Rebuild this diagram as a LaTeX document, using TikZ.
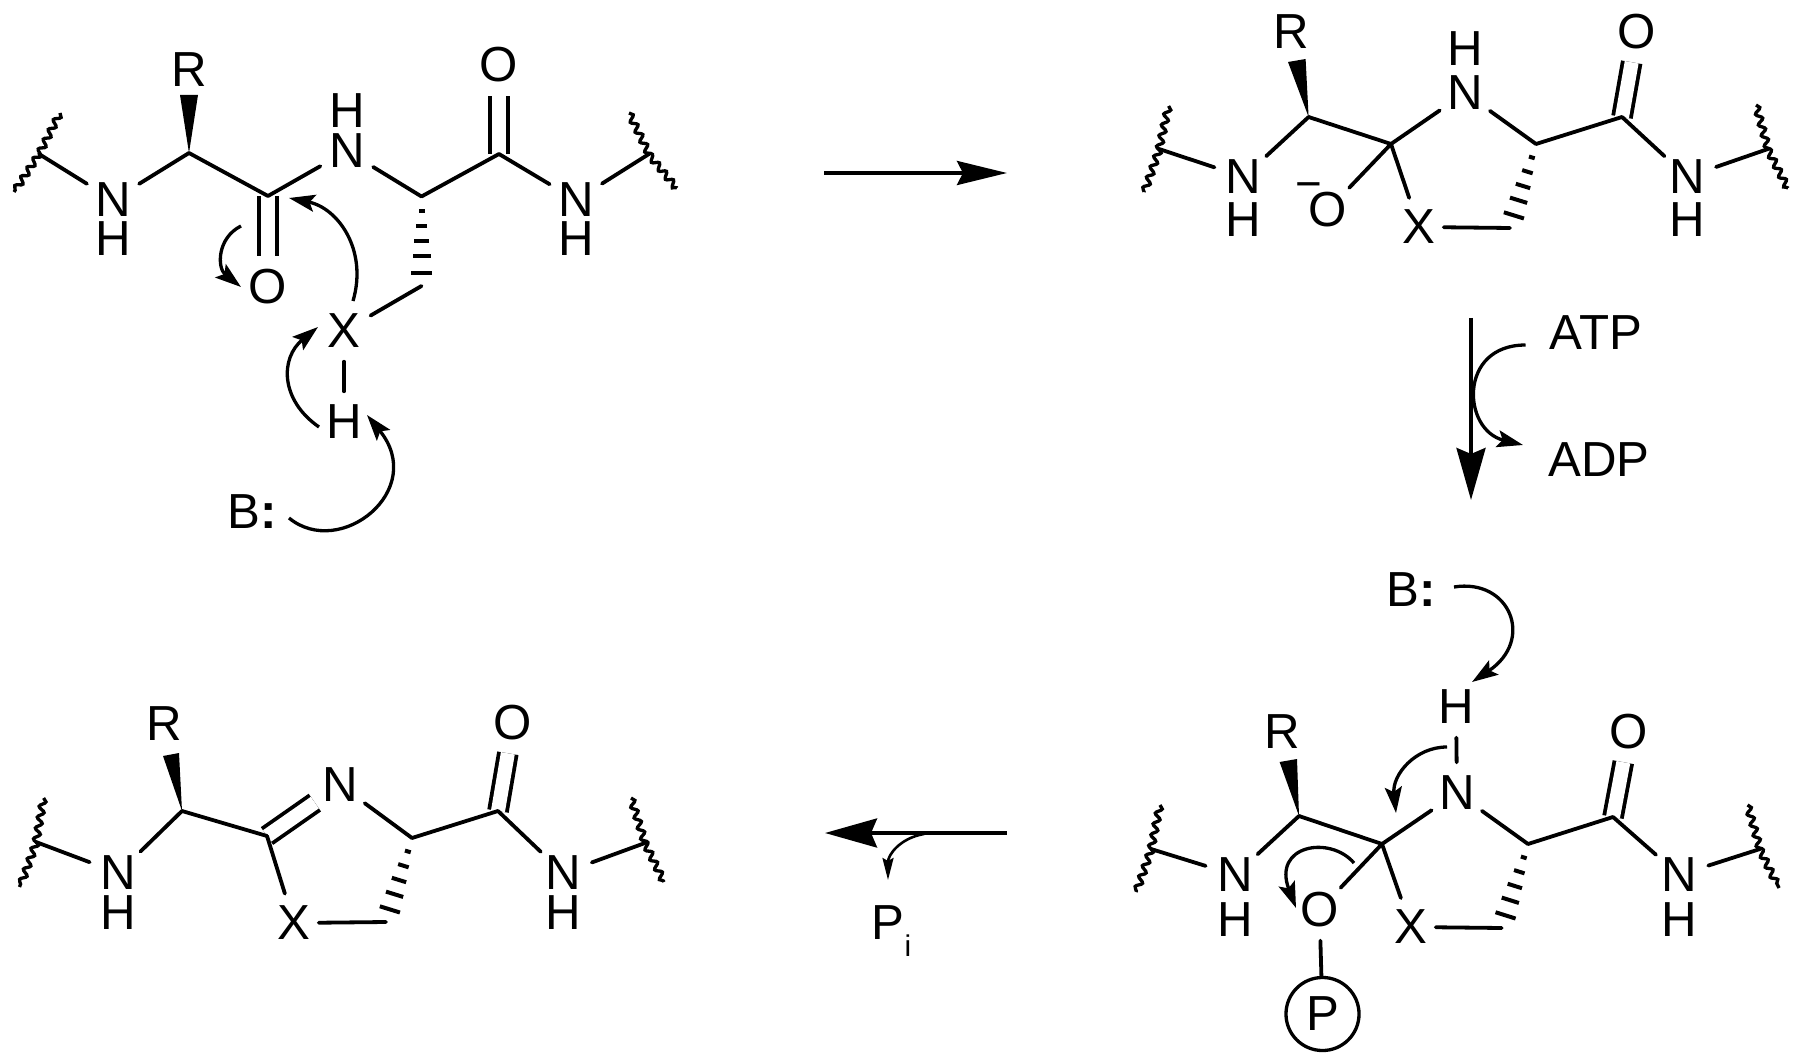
\documentclass[tikz,border=0pt]{standalone}
\usepackage{fontspec}
\setmainfont{Liberation Sans}
\usetikzlibrary{calc,arrows.meta,decorations.pathmorphing}
\tikzset{
  atom/.style={circle,inner sep=0pt,minimum size=0.6cm,font=\fontsize{14}{14}\selectfont},
  label14/.style={inner sep=0pt,font=\fontsize{14}{14}\selectfont},
  bond/.style={line width=0.038cm,line cap=round},
  dbl/.style={double,double distance=0.14cm,line width=0.038cm,line cap=butt},
  wig/.style={line width=0.033cm,decorate,decoration={snake,segment length=0.11cm,amplitude=0.03cm,pre length=0pt,post length=0pt}},
  hash/.style={line width=0.04cm},
  wedge/.style={fill=black,draw=none},
  mech/.style={line width=0.033cm,-{Stealth[length=0.26cm,width=0.17cm,inset=0.05cm]}},
  mechsmall/.style={line width=0.026cm,-{Stealth[length=0.22cm,width=0.11cm,inset=0.03cm]}},
  rxn/.style={line width=0.036cm,-{Stealth[length=0.52cm,width=0.29cm,inset=0.06cm]}},
  rxnh/.style={line width=0.036cm,-{Stealth[length=0.5cm,width=0.24cm,inset=0.06cm]}},
  toxext/.style={shorten <=-0.06cm},
}
\newcommand{\hashbond}[2]{%
  \foreach \t/\w in {0.16/0.03cm,0.33/0.055cm,0.5/0.075cm,0.67/0.09cm,0.85/0.105cm}{%
    \draw[hash] ($(#1)!\t!(#2)!\w!90:(#2)$) -- ($(#1)!\t!(#2)!\w!-90:(#2)$);}}
\begin{document}
\begin{tikzpicture}[x=0.01cm,y=-0.01cm]
\useasboundingbox (0,0) rectangle (1800,1064);

% ---------- Structure 1 (top left)
\coordinate (aWa) at (60,113); \coordinate (aWb) at (14,192); \coordinate (aJl) at (39,154);
\coordinate (aCa) at (189,153); \coordinate (aCo) at (268,196); \coordinate (aCb) at (421.5,196.5);
\coordinate (aCc) at (499,154); \coordinate (aJr) at (649,154); \coordinate (aWc) at (629,113);
\coordinate (aWd) at (677,188); \coordinate (aCh) at (421.5,286);
\coordinate (aW1) at (180,95); \coordinate (aW2) at (198,95);
\node[atom] (aN1) at (113,200) {N}; \node[atom] (aH1) at (113,239) {H};
\node[atom] (aR) at (189,70) {R};
\node[atom] (aN2) at (347,151) {N}; \node[atom] (aH2) at (347,111) {H};
\node[atom] (aO1) at (268,287) {O}; \node[atom] (aO2) at (499,65) {O};
\node[atom] (aN3) at (576,200) {N}; \node[atom] (aH3) at (576,239) {H};
\node[atom] (aX) at (344,331) {X}; \node[atom] (aH4) at (344,422) {H};
\node[atom] (aB) at (252,512) {B\textbf{:}};
\draw[dbl] (aCo) -- (aO1);
\draw[dbl] (aCc) -- (aO2);
\draw[wig] (aWa) -- (aJl) -- (aWb);
\draw[wig] (aWc) -- (aJr) -- (aWd);
\draw[bond] (aJl) -- (aN1);
\draw[bond] (aN1) -- (aCa);
\draw[bond] (aCa) -- (aCo);
\draw[bond] (aCo) -- (aN2);
\draw[bond] (aN2) -- (aCb);
\draw[bond] (aCb) -- (aCc);
\draw[bond] (aCc) -- (aN3);
\draw[bond] (aN3) -- (aJr);
\draw[bond] (aCh) -- (aX);
\draw[bond] (aX) -- (aH4);
\fill[wedge] (aCa) -- (aW1) -- (aW2) -- cycle;
\hashbond{aCb}{aCh}
\coordinate (am1s) at (353,301); \coordinate (am1e) at (289,198);
\coordinate (am2s) at (241,226); \coordinate (am2e) at (241,287);
\coordinate (am3s) at (319,427); \coordinate (am3e) at (318,327);
\coordinate (am4s) at (289,518); \coordinate (am4e) at (367,415);
\draw[mech] (am1s) .. controls (368,250) and (338,208) .. (am1e);
\draw[mech] (am2s) .. controls (217,238) and (217,268) .. (am2e);
\draw[mech] (am3s) .. controls (280,400) and (280,358) .. (am3e);
\draw[mech] (am4s) .. controls (340,560) and (428,490) .. (am4e);

% ---------- Arrow 1 (top)
\coordinate (r1s) at (824,173); \coordinate (r1e) at (1007,173);
\draw[rxnh] (r1s) -- (r1e);

% ---------- Structure 2 (top right)
\coordinate (bWa) at (1168.6,106); \coordinate (bWb) at (1144,192); \coordinate (bJl) at (1159,149);
\coordinate (bCa) at (1308.6,117); \coordinate (bCq) at (1391,144); \coordinate (bCb) at (1536,144);
\coordinate (bCc) at (1622,117); \coordinate (bJr) at (1768,149); \coordinate (bWc) at (1756,105);
\coordinate (bWd) at (1788,188); \coordinate (bCh) at (1510,228);
\coordinate (bW1) at (1288,62); \coordinate (bW2) at (1305.6,59);
\node[atom] (bN1) at (1243.6,177) {N}; \node[atom] (bH1) at (1243.6,220) {H};
\node[atom] (bR) at (1291,32) {R};
\node[atom] (bN2) at (1465,93) {N}; \node[atom] (bH2) at (1465,49) {H};
\node[atom] (bO1) at (1328,210) {O};
\node[label14,font=\fontsize{13}{13}\selectfont] (bM) at (1309,191) {−};
\node[atom] (bO2) at (1637,32) {O};
\node[atom] (bX) at (1419,227) {X};
\node[atom] (bN3) at (1687,177) {N}; \node[atom] (bH3) at (1687,220) {H};
\draw[dbl] (bCc) -- (bO2);
\draw[wig] (bWa) -- (bJl) -- (bWb);
\draw[wig] (bWc) -- (bJr) -- (bWd);
\draw[bond] (bJl) -- (bN1);
\draw[bond] (bN1) -- (bCa);
\draw[bond] (bCa) -- (bCq);
\draw[bond] (bCq) -- (bN2);
\draw[bond] (bN2) -- (bCb);
\draw[bond] (bCb) -- (bCc);
\draw[bond] (bCc) -- (bN3);
\draw[bond] (bN3) -- (bJr);
\draw[bond] (bCq) -- (bO1);
\draw[bond] (bCq) -- (bX);
\draw[bond,toxext] (bX) -- (bCh);
\fill[wedge] (bCa) -- (bW1) -- (bW2) -- cycle;
\hashbond{bCb}{bCh}

% ---------- Arrow 2 (right)
\coordinate (r2s) at (1471,318); \coordinate (r2e) at (1471,500);
\draw[rxn] (r2s) -- (r2e);
\node[atom] (atp) at (1596,333) {ATP};
\node[atom] (adp) at (1599,460) {ADP};
\coordinate (r2a) at (1525.5,345); \coordinate (r2b) at (1523,445);
\draw[mech] (r2a) .. controls (1458,345) and (1462,430) .. (r2b);

% ---------- Structure 3 (bottom right)
\coordinate (cWa) at (1160,805); \coordinate (cWb) at (1136,892); \coordinate (cJl) at (1151,849);
\coordinate (cCa) at (1299,816); \coordinate (cCq) at (1382,844); \coordinate (cCb) at (1528,844);
\coordinate (cCc) at (1613,817); \coordinate (cJr) at (1760,849); \coordinate (cWc) at (1747.5,805);
\coordinate (cWd) at (1779,888); \coordinate (cCh) at (1501.6,928);
\coordinate (cW1) at (1279.6,762); \coordinate (cW2) at (1297,759);
\node[atom] (cB) at (1411,590) {B\textbf{:}};
\node[atom] (cN1) at (1235,875) {N}; \node[atom] (cH1) at (1235,920) {H};
\node[atom] (cR) at (1282.6,732) {R};
\node[atom] (cN2) at (1457,793) {N}; \node[atom] (cH2) at (1456,707) {H};
\node[atom] (cO2) at (1629,732) {O};
\node[atom] (cO1) at (1319.5,910) {O};
\node[atom,draw,line width=0.033cm,minimum size=0.73cm] (cP) at (1322.5,1014) {P};
\node[atom] (cX) at (1411,927) {X};
\node[atom] (cN3) at (1679,875) {N}; \node[atom] (cH3) at (1679,920) {H};
\draw[dbl] (cCc) -- (cO2);
\draw[wig] (cWa) -- (cJl) -- (cWb);
\draw[wig] (cWc) -- (cJr) -- (cWd);
\draw[bond] (cJl) -- (cN1);
\draw[bond] (cN1) -- (cCa);
\draw[bond] (cCa) -- (cCq);
\draw[bond] (cCq) -- (cN2);
\draw[bond] (cN2) -- (cH2);
\draw[bond] (cN2) -- (cCb);
\draw[bond] (cCb) -- (cCc);
\draw[bond] (cCc) -- (cN3);
\draw[bond] (cN3) -- (cJr);
\draw[bond] (cCq) -- (cO1);
\draw[bond] (cO1) -- (cP);
\draw[bond] (cCq) -- (cX);
\draw[bond,toxext] (cX) -- (cCh);
\fill[wedge] (cCa) -- (cW1) -- (cW2) -- cycle;
\hashbond{cCb}{cCh}
\coordinate (cm1s) at (1454,587); \coordinate (cm1e) at (1472,682);
\coordinate (cm2s) at (1447,747); \coordinate (cm2e) at (1396,813);
\coordinate (cm3s) at (1354,863); \coordinate (cm3e) at (1296,908);
\draw[mech] (cm1s) .. controls (1510,578) and (1535,640) .. (cm1e);
\draw[mech] (cm2s) .. controls (1415,747) and (1392,775) .. (cm2e);
\draw[mech] (cm3s) .. controls (1330,835) and (1272,845) .. (cm3e);

% ---------- Arrow 3 (bottom)
\coordinate (r3s) at (1006.5,833); \coordinate (r3e) at (825,833);
\draw[rxn] (r3s) -- (r3e);
\coordinate (r3a) at (924,834); \coordinate (r3b) at (888,880);
\draw[mechsmall] (r3a) .. controls (900,838) and (888,855) .. (r3b);
\node[label14,anchor=base west] (pi) at (871,939) {P\raisebox{-5.1pt}{\fontsize{8.5}{8.5}\selectfont i}};

% ---------- Structure 4 (bottom left)
\coordinate (dWa) at (43.6,798); \coordinate (dWb) at (19.5,887); \coordinate (dJl) at (36,842);
\coordinate (dCa) at (182,811); \coordinate (dCq) at (267,836); \coordinate (dCb) at (412,838);
\coordinate (dCc) at (498,811); \coordinate (dJr) at (645,843); \coordinate (dWc) at (631,798);
\coordinate (dWd) at (664,882); \coordinate (dCh) at (386,922);
\coordinate (dW1) at (163,756); \coordinate (dW2) at (179,753);
\node[atom] (dN1) at (118.4,873) {N}; \node[atom] (dH1) at (118.4,913) {H};
\node[atom] (dR) at (164.6,724) {R};
\node[atom] (dN2) at (340,785) {N};
\node[atom] (dO) at (513,723) {O};
\node[atom] (dX) at (294,923) {X};
\node[atom] (dN3) at (563,873) {N}; \node[atom] (dH3) at (563,913) {H};
\draw[dbl] (dCq) -- (dN2);
\draw[dbl] (dCc) -- (dO);
\draw[wig] (dWa) -- (dJl) -- (dWb);
\draw[wig] (dWc) -- (dJr) -- (dWd);
\draw[bond] (dJl) -- (dN1);
\draw[bond] (dN1) -- (dCa);
\draw[bond] (dCa) -- (dCq);
\draw[bond] (dN2) -- (dCb);
\draw[bond] (dCb) -- (dCc);
\draw[bond] (dCc) -- (dN3);
\draw[bond] (dN3) -- (dJr);
\draw[bond] (dCq) -- (dX);
\draw[bond,toxext] (dX) -- (dCh);
\fill[wedge] (dCa) -- (dW1) -- (dW2) -- cycle;
\hashbond{dCb}{dCh}
\end{tikzpicture}
\end{document}
